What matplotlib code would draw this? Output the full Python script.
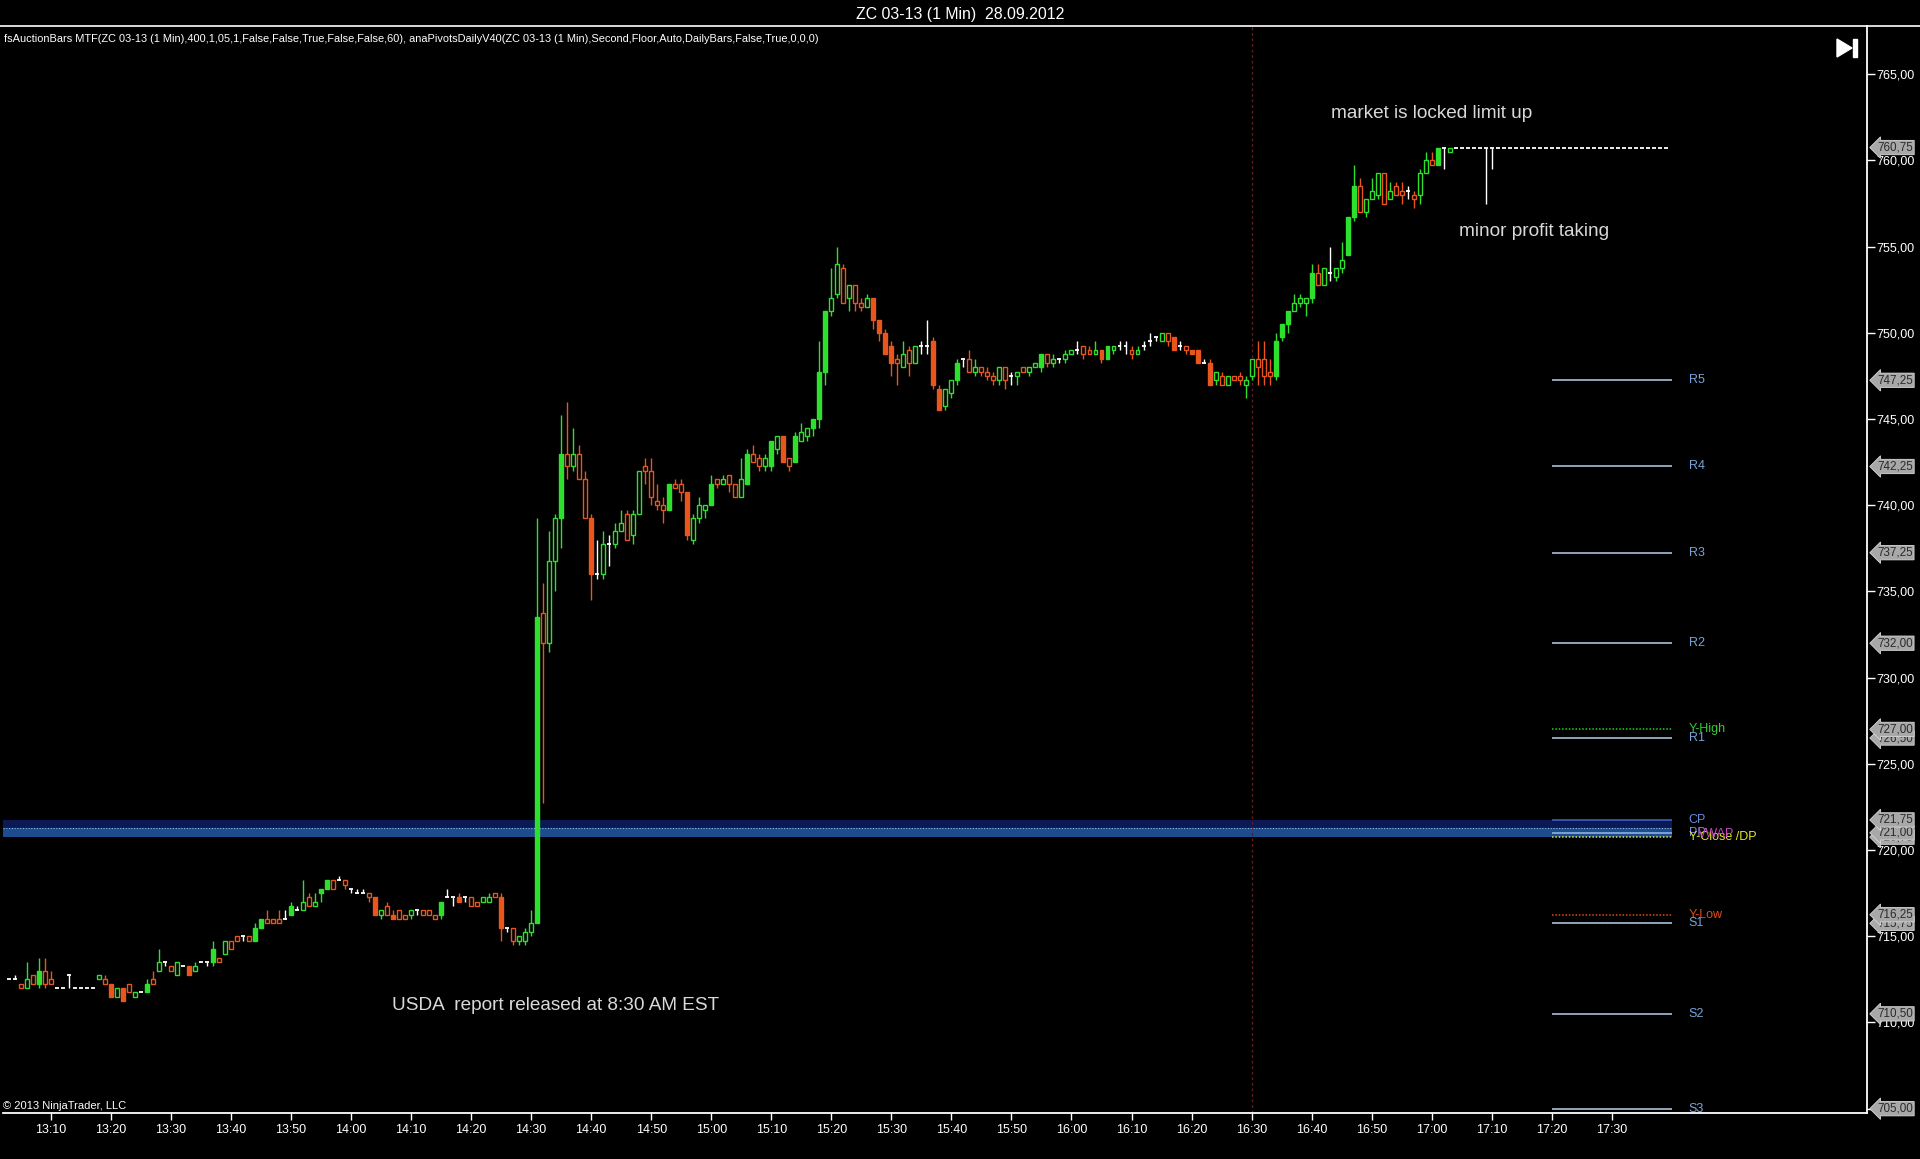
#!/usr/bin/env python3
"""
ZC 03-13 (1 Min) 28.09.2012 - one minute candles with daily pivots,
redrawn in the NinjaTrader dark style.
"""
import matplotlib
matplotlib.use("Agg")
import matplotlib.pyplot as plt
import matplotlib.transforms as mtransforms
from matplotlib.patches import Polygon, Rectangle
from matplotlib.lines import Line2D

# ---- data --------------------------------------------------------------
first_bar = "13:03"

opens = [
    712.5, 712.5, 712.25, 712.0, 712.75, 712.25, 713.0,                       # 13:03
    712.5, 712.0, 712.0, 712.75, 712.0, 712.0, 712.0, 712.0, 712.5, 712.5,    # 13:10
    712.25, 711.5, 712.0, 712.25, 711.5, 711.75, 711.75, 712.5, 713.0, 713.5,  # 13:20
    713.25, 712.75, 713.25, 713.25, 713.0, 713.5, 713.5, 713.5, 713.75, 714.0,  # 13:30
    714.75, 715.0, 715.0, 715.0, 714.75, 715.5, 716.0, 716.0, 716.0, 716.0,   # 13:40
    716.25, 716.5, 716.5, 717.25, 716.75, 717.5, 717.75, 718.25, 718.25, 718.25,  # 13:50
    717.75, 717.5, 717.5, 717.5, 717.25, 716.25, 716.75, 716.25, 716.5, 716.25,  # 14:00
    716.25, 716.5, 716.5, 716.5, 716.25, 716.25, 717.25, 717.25, 717.25, 717.25,  # 14:10
    717.25, 717.0, 717.0, 717.0, 717.5, 717.25, 715.5, 715.5, 714.75, 714.75,  # 14:20
    715.25, 715.75, 733.75, 732.0, 736.75, 739.25, 743.0, 742.25, 743.0, 741.5,  # 14:30
    739.25, 736.0, 736.0, 737.75, 737.75, 738.5, 739.5, 738.25, 739.5, 742.25,  # 14:40
    742.0, 740.25, 740.0, 739.75, 741.25, 741.25, 740.75, 738.0, 739.25, 739.75,  # 14:50
    740.0, 741.5, 741.25, 741.75, 741.25, 740.5, 741.25, 743.0, 742.75, 742.25,  # 15:00
    742.25, 743.25, 744.0, 742.75, 742.5, 743.75, 744.0, 744.5, 745.0, 747.75,  # 15:10
    751.25, 752.25, 753.75, 752.0, 752.75, 751.75, 751.5, 752.0, 750.75, 750.0,  # 15:20
    749.25, 748.5, 748.0, 749.0, 748.25, 749.25, 749.25, 749.5, 746.75, 745.75,  # 15:30
    746.5, 747.25, 748.5, 748.5, 747.75, 748.0, 747.75, 747.5, 747.25, 748.0,  # 15:40
    747.5, 747.5, 748.0, 747.75, 748.0, 748.0, 748.75, 748.25, 748.5, 748.5,  # 15:50
    748.75, 749.0, 749.25, 749.0, 748.75, 749.0, 748.5, 749.0, 749.25, 749.25,  # 16:00
    749.0, 748.75, 749.25, 749.5, 749.75, 749.5, 750.0, 749.75, 749.25, 749.25,  # 16:10
    749.0, 749.0, 748.25, 748.25, 747.25, 747.5, 747.0, 747.5, 747.5, 747.0,  # 16:20
    747.5, 748.5, 748.5, 747.75, 747.5, 749.75, 750.5, 751.25, 751.75, 751.75,  # 16:30
    752.0, 753.5, 752.75, 753.5, 753.25, 753.75, 754.5, 756.75, 758.5, 757.0,  # 16:40
    757.75, 758.0, 759.25, 757.75, 758.5, 758.25, 758.25, 758.0, 758.0, 759.25,  # 16:50
    760.0, 759.75, 760.75, 760.5, 760.75, 760.75, 760.75, 760.75, 760.75, 760.75,  # 17:00
    760.75, 760.75, 760.75, 760.75, 760.75, 760.75, 760.75, 760.75, 760.75, 760.75,  # 17:10
    760.75, 760.75, 760.75, 760.75, 760.75, 760.75, 760.75, 760.75, 760.75, 760.75,  # 17:20
    760.75, 760.75, 760.75, 760.75, 760.75, 760.75, 760.75, 760.75, 760.75, 760.75,  # 17:30
]

highs = [
    712.5, 712.75, 712.25, 713.5, 712.75, 713.75, 713.75,
    713.0, 712.0, 712.0, 712.75, 712.0, 712.0, 712.0, 712.0, 712.75, 712.75,
    712.25, 712.0, 712.0, 712.25, 711.75, 711.75, 712.5, 713.0, 714.25, 713.5,
    713.25, 713.5, 713.25, 713.25, 713.5, 713.5, 713.5, 714.75, 713.75, 714.75,
    714.75, 715.0, 715.0, 715.0, 715.75, 716.0, 716.5, 716.0, 716.5, 716.5,
    717.0, 716.75, 718.25, 717.5, 717.5, 717.75, 718.25, 718.25, 718.5, 718.25,
    717.75, 717.75, 717.75, 717.5, 717.25, 716.5, 717.0, 716.5, 716.5, 716.25,
    716.5, 716.5, 716.5, 716.5, 716.25, 717.0, 717.75, 717.25, 717.5, 717.25,
    717.25, 717.0, 717.25, 717.5, 717.5, 717.5, 715.5, 715.5, 715.0, 715.5,
    716.5, 739.25, 735.5, 738.5, 739.5, 745.25, 746.0, 744.5, 743.5, 742.0,
    739.5, 738.0, 738.5, 738.25, 739.0, 739.75, 739.75, 739.75, 742.0, 742.75,
    742.75, 741.25, 740.5, 741.25, 741.5, 741.5, 740.75, 739.5, 740.5, 740.0,
    741.75, 741.5, 741.75, 741.75, 741.25, 742.75, 743.25, 743.5, 743.0, 743.0,
    743.75, 744.0, 744.0, 742.75, 744.25, 744.75, 744.5, 745.0, 749.5, 751.25,
    753.75, 755.0, 754.0, 752.75, 752.75, 752.0, 752.25, 752.0, 750.75, 750.25,
    749.5, 748.75, 749.5, 749.25, 749.25, 749.5, 750.75, 749.75, 747.0, 746.75,
    747.25, 748.5, 748.5, 749.0, 748.5, 748.0, 748.0, 747.75, 748.0, 748.0,
    747.75, 747.75, 748.0, 748.0, 748.25, 748.75, 748.75, 748.75, 748.5, 749.0,
    749.0, 749.5, 749.25, 749.25, 749.5, 749.0, 749.25, 749.25, 749.5, 749.5,
    749.25, 749.25, 749.5, 750.0, 749.75, 750.0, 750.0, 749.75, 749.5, 749.25,
    749.0, 749.0, 748.5, 748.5, 747.75, 747.75, 747.5, 747.5, 747.75, 747.5,
    748.5, 749.5, 749.5, 748.5, 750.0, 750.5, 751.25, 752.25, 752.25, 752.0,
    754.0, 754.0, 753.75, 755.0, 753.75, 755.25, 756.75, 759.75, 759.0, 757.75,
    759.0, 759.25, 759.25, 758.75, 758.75, 758.75, 758.5, 758.25, 759.5, 760.5,
    760.5, 760.75, 760.75, 760.75, 760.75, 760.75, 760.75, 760.75, 760.75, 760.75,
    760.75, 760.75, 760.75, 760.75, 760.75, 760.75, 760.75, 760.75, 760.75, 760.75,
    760.75, 760.75, 760.75, 760.75, 760.75, 760.75, 760.75, 760.75, 760.75, 760.75,
    760.75, 760.75, 760.75, 760.75, 760.75, 760.75, 760.75, 760.75, 760.75, 760.75,
]

lows = [
    712.5, 712.5, 712.0, 712.0, 712.25, 712.0, 712.0,
    712.25, 712.0, 712.0, 712.0, 712.0, 712.0, 712.0, 712.0, 712.5, 712.25,
    711.5, 711.5, 711.25, 711.75, 711.5, 711.75, 711.75, 712.25, 713.0, 713.25,
    713.0, 712.75, 713.25, 712.75, 713.0, 713.5, 713.25, 713.25, 713.5, 714.0,
    714.25, 714.75, 714.75, 714.75, 714.75, 715.5, 715.75, 715.75, 715.75, 716.0,
    716.25, 716.5, 716.5, 716.75, 716.75, 717.0, 717.75, 717.75, 718.25, 717.75,
    717.5, 717.5, 717.5, 717.0, 716.25, 716.0, 716.25, 716.0, 716.0, 716.0,
    716.0, 716.25, 716.25, 716.25, 716.0, 716.0, 717.25, 716.75, 717.0, 717.0,
    716.75, 716.75, 717.0, 717.0, 717.25, 714.75, 715.25, 714.5, 714.5, 714.5,
    715.0, 715.75, 722.75, 731.5, 735.0, 737.5, 741.5, 742.0, 741.5, 739.25,
    734.5, 735.75, 735.75, 736.5, 737.5, 738.5, 738.0, 737.75, 739.5, 741.25,
    740.0, 739.75, 739.0, 739.75, 741.0, 740.25, 738.0, 737.75, 739.0, 739.25,
    740.0, 741.0, 741.25, 740.75, 740.5, 740.5, 741.25, 742.5, 742.0, 742.0,
    742.0, 743.0, 742.5, 742.0, 742.5, 743.75, 743.75, 744.0, 744.5, 747.0,
    751.0, 752.0, 751.75, 751.25, 751.25, 751.25, 751.5, 750.25, 749.5, 748.75,
    747.5, 747.0, 748.0, 747.5, 748.25, 748.75, 748.75, 746.75, 745.5, 745.5,
    746.25, 747.0, 748.0, 747.75, 747.5, 747.5, 747.25, 747.0, 747.0, 746.75,
    747.0, 747.0, 747.75, 747.5, 748.0, 747.75, 748.0, 748.0, 748.25, 748.25,
    748.75, 748.75, 748.5, 748.75, 748.75, 748.25, 748.5, 748.75, 749.0, 748.75,
    748.5, 748.75, 749.0, 749.25, 749.5, 749.5, 749.25, 749.0, 749.0, 748.75,
    748.75, 748.25, 748.25, 747.0, 747.0, 747.0, 747.0, 747.25, 747.0, 746.25,
    747.25, 747.0, 747.0, 747.0, 747.25, 749.5, 750.0, 751.25, 751.5, 751.0,
    751.75, 752.75, 752.75, 753.0, 753.0, 753.5, 754.5, 756.5, 757.0, 756.75,
    757.75, 757.75, 757.5, 757.75, 758.0, 757.5, 757.75, 757.25, 757.5, 759.25,
    759.75, 759.75, 759.5, 760.5, 760.75, 760.75, 760.75, 760.75, 760.75, 757.5,
    759.5, 760.75, 760.75, 760.75, 760.75, 760.75, 760.75, 760.75, 760.75, 760.75,
    760.75, 760.75, 760.75, 760.75, 760.75, 760.75, 760.75, 760.75, 760.75, 760.75,
    760.75, 760.75, 760.75, 760.75, 760.75, 760.75, 760.75, 760.75, 760.75, 760.75,
]

closes = [
    712.5, 712.5, 712.0, 712.5, 712.25, 713.0, 712.25,
    712.25, 712.0, 712.0, 712.75, 712.0, 712.0, 712.0, 712.0, 712.75, 712.25,
    711.5, 712.0, 711.25, 711.75, 711.75, 711.75, 712.25, 712.25, 713.5, 713.5,
    713.0, 713.5, 713.25, 712.75, 713.25, 713.5, 713.5, 714.25, 713.5, 714.75,
    714.25, 714.75, 715.0, 714.75, 715.5, 716.0, 715.75, 715.75, 715.75, 716.0,
    716.75, 716.5, 717.0, 716.75, 717.0, 717.75, 718.25, 717.75, 718.25, 718.0,
    717.75, 717.5, 717.5, 717.25, 716.25, 716.5, 716.25, 716.0, 716.0, 716.0,
    716.5, 716.5, 716.25, 716.25, 716.0, 717.0, 717.25, 717.25, 717.0, 717.25,
    716.75, 716.75, 717.25, 717.25, 717.25, 715.5, 715.5, 714.75, 715.0, 715.25,
    715.75, 733.5, 732.0, 736.75, 739.25, 743.0, 742.25, 743.0, 741.5, 739.25,
    736.0, 736.0, 737.75, 737.75, 738.5, 739.0, 738.0, 739.5, 742.0, 742.0,
    740.5, 740.0, 739.75, 741.25, 741.0, 740.75, 738.25, 739.25, 740.0, 740.0,
    741.25, 741.25, 741.5, 741.25, 740.5, 741.5, 743.0, 742.5, 742.25, 742.75,
    743.75, 744.0, 742.5, 742.25, 744.0, 744.25, 744.5, 745.0, 747.75, 751.25,
    752.0, 754.0, 751.75, 752.75, 751.75, 751.5, 752.0, 750.75, 750.0, 748.75,
    748.25, 748.25, 748.75, 748.25, 749.25, 749.25, 749.25, 747.0, 745.5, 746.75,
    747.25, 748.25, 748.5, 747.75, 748.0, 747.75, 747.5, 747.25, 748.0, 747.25,
    747.5, 747.75, 747.75, 748.0, 748.25, 748.75, 748.25, 748.5, 748.5, 748.75,
    749.0, 749.0, 748.75, 748.75, 749.0, 748.5, 749.25, 749.25, 749.25, 749.25,
    748.75, 749.0, 749.25, 749.5, 749.75, 750.0, 749.5, 749.0, 749.25, 749.0,
    748.75, 748.25, 748.25, 747.0, 747.75, 747.0, 747.5, 747.25, 747.25, 747.25,
    748.5, 748.0, 747.5, 747.5, 749.5, 750.5, 751.25, 751.75, 752.0, 752.0,
    753.5, 752.75, 753.75, 753.5, 753.75, 754.25, 756.75, 758.5, 757.0, 757.75,
    758.25, 759.25, 757.5, 758.25, 758.0, 758.0, 758.25, 757.75, 759.25, 760.0,
    759.75, 760.75, 760.75, 760.75, 760.75, 760.75, 760.75, 760.75, 760.75, 760.75,
    760.75, 760.75, 760.75, 760.75, 760.75, 760.75, 760.75, 760.75, 760.75, 760.75,
    760.75, 760.75, 760.75, 760.75, 760.75, 760.75, 760.75, 760.75, 760.75, 760.75,
    760.75, 760.75, 760.75, 760.75, 760.75, 760.75, 760.75, 760.75, 760.75, 760.75,
]

# bars drawn with a solid body (the rest are hollow)
solid_bars = [
    "13:08", "13:20", "13:22", "13:26", "13:33", "13:37", "13:44", "13:45",
    "13:50", "13:55", "13:56", "14:04", "14:07", "14:15", "14:18", "14:25",
    "14:31", "14:35", "14:40", "14:53", "14:56", "15:00", "15:06", "15:10",
    "15:12", "15:14", "15:17", "15:18", "15:19", "15:27", "15:28", "15:29",
    "15:30", "15:37", "15:38", "15:41", "15:55", "16:05", "16:06", "16:17",
    "16:20", "16:21", "16:23", "16:34", "16:35", "16:36", "16:40", "16:46",
    "16:47", "17:01",
]

# daily pivots / reference levels shown at the right
pivot_names = ["R5", "R4", "R3", "R2", "R1", "Y-High", "CP", "PP",
               "Y-Close /DP", "Y-Low", "S1", "S2", "S3"]
pivot_values = [747.25, 742.25, 737.25, 732.0, 726.5, 727.0, 721.75, 721.0,
                720.75, 716.25, 715.75, 710.5, 705.0]
vwap_label_level = 720.95
band_top, band_mid, band_bottom = 721.75, 721.3, 720.75

last_price = 760.75
axis_ticks = [705, 710, 715, 720, 725, 730, 735, 740, 745, 750, 755, 760, 765]
time_ticks = ["13:10", "13:20", "13:30", "13:40", "13:50", "14:00", "14:10",
              "14:20", "14:30", "14:40", "14:50", "15:00", "15:10", "15:20",
              "15:30", "15:40", "15:50", "16:00", "16:10", "16:20", "16:30",
              "16:40", "16:50", "17:00", "17:10", "17:20", "17:30"]
session_break = "16:30"

title = "ZC 03-13 (1 Min)  28.09.2012"
indicator_text = ("fsAuctionBars MTF(ZC 03-13 (1 Min),400,1,05,1,False,False,True,False,False,60), "
                  "anaPivotsDailyV40(ZC 03-13 (1 Min),Second,Floor,Auto,DailyBars,False,True,0,0,0)")
notes = [
    ("market is locked limit up", "17:00", 762.75),
    ("minor profit taking", "17:17", 755.9),
    ("USDA  report released at 8:30 AM EST", "14:34", 711.0),
]


def to_min(hhmm):
    h, m = hhmm.split(":")
    return int(h) * 60 + int(m)


def fmt_price(v):
    return f"{v:.2f}".replace(".", ",")


# ---- style ---------------------------------------------------------------
UP = "#2ee02e"
DOWN = "#e8561e"
DOJI = "#ffffff"
NARROW = ["Liberation Sans Narrow", "Liberation Sans", "DejaVu Sans"]
plt.rcParams["font.family"] = NARROW

W, H = 1920, 1159
fig = plt.figure(figsize=(W / 100, H / 100), dpi=100, facecolor="black")
ax = fig.add_axes([3 / W, 1 - 1113 / H, (1867 - 3) / W, (1113 - 26) / H])
ax.set_facecolor("black")

t0 = to_min("13:10")
ax.set_xlim(t0 - 7.96, t0 + 302.5)
ax.set_ylim(704.75, 767.8)

# ---- candles -----------------------------------------------------------
start = to_min(first_bar)
solid = set(to_min(s) for s in solid_bars)
body_w = 0.66
for i in range(len(opens)):
    x = start + i
    o, h, l, c = opens[i], highs[i], lows[i], closes[i]
    if c > o:
        col = UP
    elif c < o:
        col = DOWN
    else:
        col = DOJI
    if h > l:
        ax.vlines(x, l, h, color=col, lw=1.0, zorder=3)
    if c == o:
        ax.hlines(o, x - body_w / 2, x + body_w / 2, color=col, lw=1.3, zorder=4)
    else:
        face = col if x in solid else "black"
        ax.bar(x, abs(c - o), bottom=min(o, c), width=body_w,
               facecolor=face, edgecolor=col, linewidth=1.0, zorder=4)

# ---- levels ------------------------------------------------------------
lvl_start, lvl_end = to_min("17:20"), to_min("17:40")
x_left = ax.get_xlim()[0]
ax.fill_between([x_left, lvl_end], band_mid, band_top, color="#0b1a55", lw=0, zorder=1)
ax.fill_between([x_left, lvl_end], band_bottom, band_mid, color="#1d4c8c", lw=0, zorder=1)
ax.hlines(band_mid, x_left, lvl_end, color="#8fb4e8", lw=0.8, linestyles=(0, (1, 1.5)), zorder=2)

line_style = {
    "Y-High": ("#22d022", (0, (1, 1.2)), "#33cc33"),
    "CP": ("#4a5fd0", "-", "#6f8ad8"),
    "PP": ("#9ab8e8", "-", "#7f88d8"),
    "Y-Close /DP": ("#e8e830", (0, (1, 1.2)), "#e6e628"),
    "Y-Low": ("#e04a1c", (0, (1, 1.2)), "#e04a1c"),
}
for name, val in zip(pivot_names, pivot_values):
    lc, ls, tc = line_style.get(name, ("#b8d2ea", "-", "#78a4dc"))
    ax.hlines(val, lvl_start, lvl_end, color=lc, lw=1.1, linestyles=ls, zorder=2)
    ax.text(lvl_end + 2.8, val, name, color=tc, fontsize=9, va="center",
            ha="left", zorder=5)
ax.text(lvl_end + 4.4, vwap_label_level, "VWAP", color="#c848c0", fontsize=9,
        va="center", ha="left", zorder=5)

ax.axvline(to_min(session_break), color="#5e1e1e", lw=1.0, ls=(0, (2, 2)), zorder=1)

# ---- axes ---------------------------------------------------------------
for side in ("left", "top"):
    ax.spines[side].set_visible(False)
for side in ("right", "bottom"):
    ax.spines[side].set_color("white")
    ax.spines[side].set_linewidth(1.3)

ax.yaxis.tick_right()
ax.set_yticks(axis_ticks)
ax.set_yticklabels([fmt_price(v) for v in axis_ticks])
ax.tick_params(axis="y", colors="white", labelcolor="white", length=6,
               width=1, labelsize=9, pad=1)
ax.set_xticks([to_min(t) for t in time_ticks])
ax.set_xticklabels(time_ticks)
ax.tick_params(axis="x", colors="white", labelcolor="white", length=5,
               width=1, labelsize=9, pad=3)

# price markers on the axis, lower ones first so higher ones sit on top
marker_tr = mtransforms.blended_transform_factory(ax.transAxes, ax.transData)
for val in sorted(pivot_values + [last_price]):
    ax.text(1.0055, val, fmt_price(val), transform=marker_tr, fontsize=8.4,
            color="#2a2a2a", ha="left", va="center", clip_on=False, zorder=10,
            bbox=dict(boxstyle="larrow,pad=0.1", fc="#a8a8a8", ec="#d8d8d8", lw=0.6))

# ---- texts ---------------------------------------------------------------
for txt, tm, price in notes:
    ax.text(to_min(tm), price, txt, color="#d9d9d9", fontsize=13.7, ha="center",
            va="center", family=["Liberation Sans", "DejaVu Sans"], zorder=6)

fig.text(960 / W, 1 - 14 / H, title, color="white", fontsize=11.4, ha="center", va="center")
fig.text(4 / W, 1 - 39 / H, indicator_text, color="white", fontsize=7.9, ha="left", va="center")
fig.text(3 / W, 1 - 1106 / H, "\u00a9 2013 NinjaTrader, LLC", color="white", fontsize=8,
         ha="left", va="center")
fig.add_artist(Line2D([0, 1], [1 - 26 / H, 1 - 26 / H], color="white", lw=1.2,
                      transform=fig.transFigure))

# the "go to end" button at the top right
fig.add_artist(Polygon([(1837 / W, 1 - 39 / H), (1837 / W, 1 - 57 / H), (1852 / W, 1 - 48 / H)],
                       closed=True, color="white", transform=fig.transFigure))
fig.add_artist(Rectangle((1853 / W, 1 - 57 / H), 4 / W, 18 / H, color="white",
                         transform=fig.transFigure))

fig.savefig("out.png", dpi=100, facecolor="black")
